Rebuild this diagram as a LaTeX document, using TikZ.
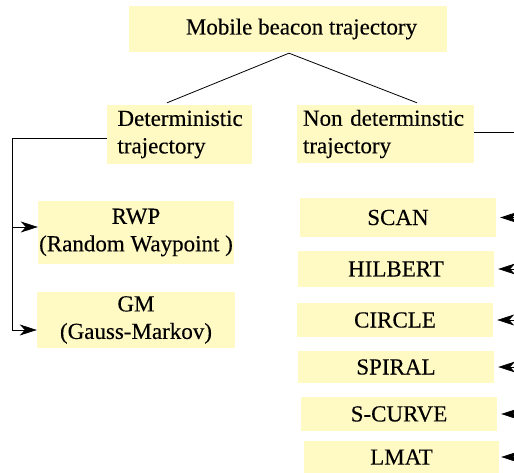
\documentclass[tikz,border=0pt]{standalone}
\usepackage{fontspec}
\setmainfont{Liberation Serif}
\newfontfamily\boxfont{Liberation Serif}[FakeBold=0.25]
\usetikzlibrary{arrows.meta}
\definecolor{boxfill}{RGB}{255,249,196}
\begin{document}
\begin{tikzpicture}[x=1pt,y=-1pt,
  box/.style={fill=boxfill, inner sep=0pt, font=\boxfont\fontsize{23}{27.5}\selectfont},
  conn/.style={line width=0.8pt, black},
  arr/.style={conn, -{Stealth[length=17pt,width=11pt,inset=5pt]}}]
\useasboundingbox (0,0) rectangle (514,473);
% boxes
\node[box, minimum width=318, minimum height=46] (top) at (288,29) {\hspace*{27pt}Mobile beacon trajectory};
\node[box, minimum width=145, minimum height=59, text width=124, align=left] (det) at (179.5,134.5) {Deterministic\\trajectory};
\node[box, minimum width=177, minimum height=58, text width=165, align=left] (ndet) at (385.5,134) {Non determinstic\\trajectory};
\node[box, minimum width=196, minimum height=63, align=center] (rwp) at (136,232.5) {RWP\\(Random Waypoint )};
\node[box, minimum width=198, minimum height=56, align=center] (gm) at (136,320) {GM\\(Gauss-Markov)};
\node[box, minimum width=196, minimum height=39] (scan) at (398,217.5) {SCAN};
\node[box, minimum width=196, minimum height=36] (hil) at (396,269) {HILBERT};
\node[box, minimum width=196, minimum height=34] (cir) at (395,320) {CIRCLE};
\node[box, minimum width=196, minimum height=32] (spi) at (396,367) {SPIRAL};
\node[box, minimum width=196, minimum height=34] (scu) at (399,414) {S-CURVE};
\node[box, minimum width=195, minimum height=32] (lmat) at (401.5,457) {LMAT};
% top connectors
\draw[conn] ([xshift=1,yshift=-1]top.south) -- ([xshift=-12.5,yshift=2]det.north);
\draw[conn] ([xshift=1,yshift=-1]top.south) -- ([xshift=31.5,yshift=2]ndet.north);
% left bus
\coordinate (lb) at (12,0);
\coordinate (rwpa) at ([yshift=5.5]rwp.west);
\coordinate (gma) at ([yshift=-10]gm.west);
\draw[arr] ([yshift=-3.5]det.west) -| (lb |- gma) -- (gma);
\draw[arr] (lb |- rwpa) -- (rwpa);
% right side
\coordinate (rb) at (514,0);
\coordinate (ndo) at ([yshift=2]ndet.east);
\draw[conn] (ndo) -- (rb |- ndo);
\draw[arr] (rb |- scan.east) -- ([xshift=4]scan.east);
\draw[arr] (rb |- hil.east) -- ([xshift=4]hil.east);
\draw[arr] (rb |- cir.east) -- ([xshift=4]cir.east);
\draw[arr] (rb |- spi.east) -- ([xshift=4]spi.east);
\draw[arr] (rb |- scu.east) -- ([xshift=4]scu.east);
\draw[arr] (rb |- lmat.east) -- ([xshift=2]lmat.east);
\end{tikzpicture}
\end{document}
